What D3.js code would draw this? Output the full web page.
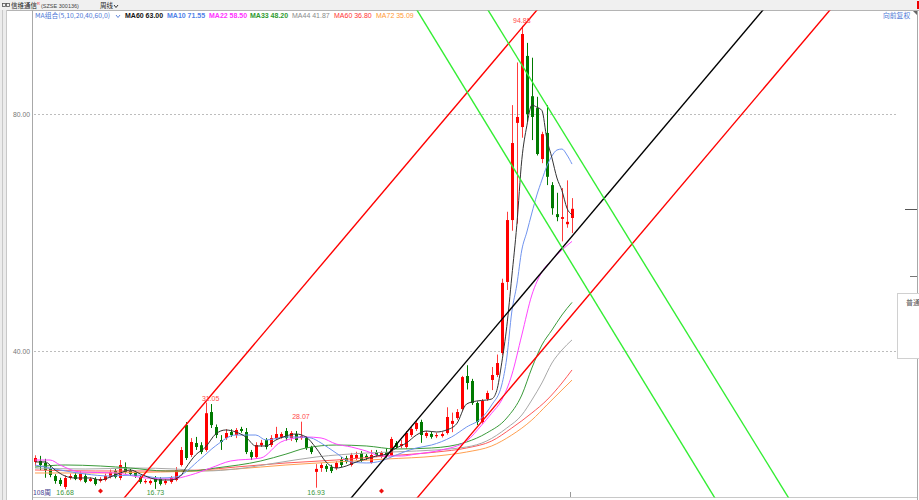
<!DOCTYPE html>
<html><head><meta charset="utf-8">
<script src="https://cdn.jsdelivr.net/npm/d3@7"></script>
<style>body{margin:0;background:#fff;overflow:hidden}svg{display:block}</style>
</head><body>
<svg id="c" width="919" height="500"></svg>
<script>
// ---- data (weekly candles, 108 weeks) ----
const opens = [21.27,21.44,21.1,20.25,18.9,18.23,17.05,18.57,19.07,18.23,18.9,18.06,18.4,18.06,18.23,18.73,19.75,18.57,20.42,19.75,19.4,18.73,17.9,17.7,18.57,18.4,17.7,17.9,18.23,20.76,27.5,22.45,24.47,24.1,23.29,29.7,27.17,24.98,25.3,26.33,25.82,26.84,26.33,22.95,22.1,24.1,24.98,24.13,25.3,25.5,26.5,25.3,25.99,25.3,25.3,23.8,19.6,20.25,20.6,20.42,20.25,21.6,21.94,20.76,21.94,22.78,22.3,21.1,22.95,22.11,22.95,22.45,24.47,23.97,23.8,25.82,26.84,28.02,25.65,26.0,25.65,25.65,26.16,27.7,28.69,30.21,35.78,34.94,31.22,28.02,31.9,35.11,35.95,39.66,51.65,62.1,78.5,77.8,89.8,83.0,81.0,72.4,76.8,68.0,63.1,62.3,61.4,62.45];
const highs = [22.4,22.3,21.8,20.6,19.2,18.6,19.0,19.3,19.4,19.7,19.3,18.7,18.7,18.7,19.3,20.0,20.1,21.6,21.2,20.1,19.8,19.0,18.4,18.3,18.9,18.7,18.4,18.9,20.4,23.8,28.0,25.3,25.5,24.6,31.3,31.05,27.6,25.8,26.8,26.8,27.0,27.2,27.0,23.3,24.6,25.0,25.3,25.8,27.2,26.3,27.0,26.5,26.5,28.07,25.6,24.0,20.9,21.1,20.9,20.8,21.4,22.1,22.3,22.8,23.0,23.1,22.6,23.3,23.3,23.1,23.6,25.5,24.8,25.0,26.5,27.2,28.2,28.4,26.5,26.4,26.2,26.3,30.5,29.6,30.2,35.8,37.6,35.3,31.5,31.9,33.3,37.3,39.4,52.2,63.5,81.5,88.7,94.88,92.0,89.5,82.9,77.0,81.5,68.5,66.7,67.5,68.8,65.8];
const lows = [20.6,19.9,18.6,18.7,17.6,17.2,16.68,18.3,18.2,18.0,17.7,17.9,17.3,17.8,18.0,18.5,18.5,18.2,19.3,18.9,18.6,17.6,17.6,17.4,16.73,17.3,17.4,17.6,18.0,20.5,21.6,22.1,23.3,22.6,23.0,27.0,25.3,23.3,25.0,25.5,25.3,26.2,22.6,21.6,21.8,23.8,23.4,23.8,25.0,25.2,24.9,24.8,24.6,25.0,23.3,22.6,16.93,19.6,19.6,19.4,19.9,20.4,21.0,20.5,21.6,21.3,21.6,21.0,22.1,21.9,22.0,22.2,23.5,23.6,23.5,25.5,26.5,24.5,25.3,25.2,25.3,25.4,25.9,26.3,28.4,29.9,33.5,30.9,27.5,27.7,31.6,33.4,35.6,39.3,50.3,60.3,61.5,76.0,78.6,75.6,73.0,71.7,68.0,63.0,61.9,58.5,60.8,59.9];
const closes = [21.94,20.76,19.9,19.07,18.06,17.55,18.57,18.9,18.4,19.24,17.9,18.4,17.55,18.4,18.9,19.58,18.73,20.76,19.58,19.24,18.9,17.9,18.06,18.06,17.9,17.55,18.06,18.57,19.92,23.29,21.94,24.64,23.8,22.95,29.5,27.5,25.82,24.64,26.16,25.82,26.67,26.5,22.95,22.1,24.13,24.5,23.8,25.3,25.99,25.99,25.3,26.16,24.98,25.65,23.63,22.95,20.1,20.76,20.1,19.75,21.1,20.76,21.27,22.45,22.45,21.6,21.94,22.45,22.45,22.78,22.3,25.15,23.8,24.3,26.16,26.84,27.85,25.82,26.16,25.5,25.82,25.99,28.86,28.2,29.7,35.6,34.6,31.22,28.02,31.56,32.91,35.95,37.97,51.5,62.1,75.1,79.5,93.5,80.0,79.5,73.25,76.6,69.4,64.1,62.6,62.6,61.8,64.0];

// moving-average lines: [week index, value]
const ma5  = [[0,21.27],[2,21.27],[4,19.92],[6,18.9],[8,18.57],[11,18.57],[13,18.23],[15,18.73],[17,19.41],[19,19.92],[21,19.24],[23,18.57],[25,18.23],[27,18.23],[29,18.9],[30,20.2],[32,22.45],[34,23.8],[36,25.99],[38,26.67],[40,26.33],[42,25.49],[44,23.97],[46,23.97],[48,24.98],[50,25.65],[52,25.99],[54,25.49],[56,23.63],[58,21.27],[60,20.25],[62,20.59],[64,21.27],[66,21.77],[68,22.28],[70,22.62],[72,23.63],[74,24.47],[76,25.82],[78,26.5],[80,26.33],[82,26.67],[84,27.7],[86,31.05],[88,31.56],[90,31.73],[91,31.9],[92,33.3],[93,38.0],[94,44.1],[95,52.5],[96,61.2],[97,72.3],[98,78.0],[99,81.5],[100,81.15],[101,80.6],[102,75.75],[103,72.6],[104,69.2],[105,67.06],[106,64.1],[107,63.0]];
const ma10 = [[0,20.76],[5,19.92],[10,19.24],[15,18.9],[20,19.07],[25,18.57],[28,18.73],[33,21.8],[36,24.0],[40,25.82],[44,25.82],[46,24.98],[50,25.49],[53,25.49],[55,25.32],[57,24.47],[60,22.78],[63,21.27],[66,21.1],[69,21.44],[71,22.11],[76,23.63],[79,24.13],[83,25.49],[86,27.17],[89,28.69],[91,30.89],[93,34.26],[94,38.82],[95,46.58],[96,51.14],[97,57.05],[98,60.08],[99,63.29],[100,66.33],[101,68.86],[102,71.22],[103,72.91],[104,73.92],[105,74.09],[106,73.08],[107,71.55]];
const ma22 = [[0,21.6],[3,21.6],[5,20.76],[9,19.58],[16,19.41],[22,18.57],[27,18.4],[31,19.07],[35,20.25],[39,21.44],[45,21.94],[49,24.64],[52,25.32],[54,25.49],[57,25.32],[60,24.3],[63,23.8],[66,23.12],[69,22.28],[73,22.28],[76,22.62],[81,23.29],[86,24.81],[89,27.5],[91,29.5],[93,31.73],[95,35.95],[97,42.7],[99,49.45],[101,53.33],[103,55.36],[105,57.05],[107,58.5]];
const ma33 = [[0,20.42],[6,20.76],[13,20.59],[19,20.25],[26,19.75],[31,19.75],[36,20.25],[45,21.44],[50,22.6],[54,23.63],[60,24.13],[66,23.97],[72,23.46],[79,23.63],[86,24.64],[90,26.16],[94,28.69],[97,32.57],[99,37.13],[101,41.01],[103,43.54],[105,46.08],[107,48.2]];
const ma44 = [[0,20.25],[10,20.08],[20,20.25],[28,20.08],[34,19.75],[40,20.08],[48,21.1],[56,22.11],[66,22.78],[76,23.12],[86,23.8],[90,24.81],[94,27.0],[97,29.2],[99,31.73],[101,34.6],[103,37.97],[105,40.17],[107,41.87]];
const ma60 = [[0,19.92],[12,19.75],[25,19.75],[33,19.92],[40,20.42],[50,21.1],[60,21.6],[70,22.28],[80,22.95],[86,23.63],[91,24.81],[95,27.0],[99,29.54],[102,31.73],[105,34.6],[107,36.8]];
const ma72 = [[0,19.41],[12,19.41],[25,19.58],[33,19.75],[40,20.08],[50,20.76],[60,21.27],[70,21.77],[80,22.28],[86,22.95],[91,23.97],[95,25.82],[99,28.35],[102,30.89],[105,33.42],[107,35.09]];

const legendNames  = ["MA60 63.00","MA10 71.55","MA22 58.50","MA33 48.20","MA44 41.87","MA60 36.80","MA72 35.09"];
const yTicks = [40, 80];
// drawn trend lines: two anchor points each [week index, price]
const trendRed1  = [[17.93,15.36],[100.02,97.55]];
const trendRed2  = [[76.31,15.36],[158.4,97.55]];
const trendBlack = [[63.16,15.36],[145.05,97.55]];
const trendGreen1= [[76.1,97.55],[135.1,15.7]];
const trendGreen2= [[90.26,97.55],[149.8,15.7]];
const highMarks = [[35,"31.05"],[53,"28.07"],[97,"94.88"]];
const lowMarks  = [[6,"16.68"],[24,"16.73"],[56,"16.93"]];
const eventMarks = [13, 69];

// ---- drawing ----
const svg = d3.select("#c");
const x = d3.scaleLinear().domain([0,107]).range([35,572]);
const y = d3.scaleLinear().domain([40,80]).range([351,114]);
const P = {l:33, r:896, t:10, b:497};
const F = "'Liberation Sans',Arial,sans-serif";
const FC = "'Noto Sans CJK SC','Liberation Sans',sans-serif";

svg.append("rect").attr("width",919).attr("height",500).attr("fill","#fff");
svg.append("defs").append("clipPath").attr("id","clip")
  .append("rect").attr("x",P.l+0.5).attr("y",P.t+0.5).attr("width",P.r-P.l).attr("height",P.b-P.t);

// header bar
svg.append("rect").attr("x",0).attr("y",0).attr("width",919).attr("height",10).attr("fill","#f0f0f0");
svg.append("line").attr("x1",0).attr("x2",919).attr("y1",10.5).attr("y2",10.5).attr("stroke","#b4b4b4");
svg.append("rect").attr("x",2.5).attr("y",3.5).attr("width",3).attr("height",3).attr("fill","none").attr("stroke","#555").attr("stroke-width",0.8);
svg.append("rect").attr("x",6.5).attr("y",3.5).attr("width",3).attr("height",3).attr("fill","none").attr("stroke","#555").attr("stroke-width",0.8);
svg.append("text").attr("x",11).attr("y",8).attr("font-family",FC).attr("font-size",6.5).attr("fill","#222").text("信维通信");
svg.append("text").attr("x",37).attr("y",5).attr("font-family",F).attr("font-size",4).attr("fill","#e33").text("R");
svg.append("text").attr("x",41).attr("y",8).attr("font-family",F).attr("font-size",5.5).attr("fill","#444").text("(SZSE 300136)");
svg.append("text").attr("x",100).attr("y",8).attr("font-family",FC).attr("font-size",6.5).attr("fill","#222").text("周线");
svg.append("path").attr("d","M114,5 L116,7.5 L118,5").attr("fill","none").attr("stroke","#222").attr("stroke-width",0.9);
svg.append("rect").attr("x",917).attr("y",1).attr("width",2).attr("height",8).attr("fill","#e00");

// frame
svg.append("rect").attr("x",0).attr("y",10).attr("width",7).attr("height",490).attr("fill","#ececec");
svg.append("line").attr("x1",2.5).attr("x2",2.5).attr("y1",10).attr("y2",500).attr("stroke","#c8c8c8");
svg.append("line").attr("x1",6.5).attr("x2",6.5).attr("y1",10).attr("y2",500).attr("stroke","#c8c8c8");
svg.append("line").attr("x1",32.5).attr("x2",32.5).attr("y1",10).attr("y2",500).attr("stroke","#a8a8a8");
svg.append("line").attr("x1",917.5).attr("x2",917.5).attr("y1",10).attr("y2",500).attr("stroke","#a8a8a8");
svg.append("line").attr("x1",33).attr("x2",917).attr("y1",497.5).attr("y2",497.5).attr("stroke","#c8c8c8");
svg.append("line").attr("x1",570.5).attr("x2",570.5).attr("y1",492).attr("y2",497).attr("stroke","#999");
svg.append("line").attr("x1",905).attr("x2",917).attr("y1",209.5).attr("y2",209.5).attr("stroke","#555");
svg.append("line").attr("x1",910).attr("x2",917).attr("y1",276.5).attr("y2",276.5).attr("stroke","#777");

// y grid + labels
yTicks.forEach(v=>{
  const yy = Math.round(y(v))+0.5;
  svg.append("line").attr("x1",34).attr("x2",P.r).attr("y1",yy).attr("y2",yy)
     .attr("stroke","#bdbdbd").attr("stroke-dasharray","2,2");
  svg.append("text").attr("x",30).attr("y",yy+2.5).attr("text-anchor","end")
     .attr("font-family",F).attr("font-size",6.8).attr("fill","#777").text(v.toFixed(2));
});

const g = svg.append("g").attr("clip-path","url(#clip)");

// candles
const idx = d3.range(closes.length);
const up = i => closes[i] >= opens[i];
const col = i => up(i) ? "#ff0000" : "#007a00";
g.selectAll(".wick").data(idx).join("line")
  .attr("x1",i=>Math.round(x(i))+0.5).attr("x2",i=>Math.round(x(i))+0.5)
  .attr("y1",i=>y(highs[i])).attr("y2",i=>y(lows[i]))
  .attr("stroke",i=>up(i)?"#ff3c3c":"#007a00").attr("stroke-width",1);
g.selectAll(".body").data(idx).join("rect")
  .attr("x",i=>Math.round(x(i))-1).attr("width",3)
  .attr("y",i=>y(Math.max(opens[i],closes[i])))
  .attr("height",i=>Math.max(1.2, Math.abs(y(opens[i])-y(closes[i]))))
  .attr("fill",col);

// MA lines
const line = d3.line().x(d=>x(d[0])).y(d=>y(d[1])).curve(d3.curveMonotoneX);
[[ma72,"#ff9f50"],[ma60,"#ff5a5a"],[ma44,"#a8a8a8"],[ma33,"#3a9a3a"],[ma22,"#ff44ff"],[ma10,"#6f93ee"],[ma5,"#333333"]]
 .forEach(([d,c])=>g.append("path").attr("d",line(d)).attr("fill","none").attr("stroke",c).attr("stroke-width",1));

// trend lines
[[trendRed1,"#ff0000"],[trendRed2,"#ff0000"],[trendBlack,"#000000"],[trendGreen1,"#33ee33"],[trendGreen2,"#33ee33"]]
 .forEach(([t,c])=>{
   const x1=x(t[0][0]), y1=y(t[0][1]), x2=x(t[1][0]), y2=y(t[1][1]);
   const dx=x2-x1, dy=y2-y1, k=3;
   g.append("line").attr("x1",x1-dx*k).attr("y1",y1-dy*k).attr("x2",x2+dx*k).attr("y2",y2+dy*k)
    .attr("stroke",c).attr("stroke-width",1.4);
 });

// high / low labels
highMarks.forEach(([i,t])=>svg.append("text").attr("x",x(i)).attr("y",y(highs[i])-3)
  .attr("text-anchor","middle").attr("font-family",F).attr("font-size",7).attr("fill","#ff4a4a").text(t));
lowMarks.forEach(([i,t])=>svg.append("text").attr("x",x(i)).attr("y",495)
  .attr("text-anchor","middle").attr("font-family",F).attr("font-size",7).attr("fill","#3c963c").text(t));
eventMarks.forEach(i=>svg.append("path").attr("transform",`translate(${Math.round(x(i))+0.5},491)`)
  .attr("d","M0,-2.5 L2.5,0 L0,2.5 L-2.5,0Z").attr("fill","#ee1111"));
svg.append("text").attr("x",33).attr("y",495).attr("font-family",FC).attr("font-size",6.8).attr("fill","#3b3b8f").text("108周");

// legend
svg.append("text").attr("x",35).attr("y",17.5).attr("font-family",FC).attr("font-size",6.8).attr("fill","#4d78d6").text("MA组合(5,10,20,40,60,0)");
svg.append("path").attr("d","M116,15 L118,17.5 L120,15").attr("fill","none").attr("stroke","#4d78d6").attr("stroke-width",0.9);
const legendColors = ["#111111","#4f82e8","#ff33ff","#2f9a2f","#8a8a8a","#ff3333","#ff9933"];
const legendX = [125,167,209,250,292,334,376];
legendNames.forEach((n,k)=>svg.append("text").attr("x",legendX[k]).attr("y",17.5)
  .attr("font-family",F).attr("font-size",7).attr("font-weight",k<4?"bold":"normal").attr("fill",legendColors[k]).text(n));
svg.append("text").attr("x",883).attr("y",18).attr("font-family",FC).attr("font-size",6.8).attr("fill","#4d78d6").text("向前复权");
svg.append("path").attr("d","M913,11 L917,11 L917,15Z").attr("fill","#666");

// side box
svg.append("rect").attr("x",897.5).attr("y",293.5).attr("width",25).attr("height",65).attr("fill","#fff").attr("stroke","#d0d0d0");
svg.append("text").attr("x",906).attr("y",305).attr("font-family",FC).attr("font-size",7).attr("fill","#555").text("普通");
</script>
</body></html>
